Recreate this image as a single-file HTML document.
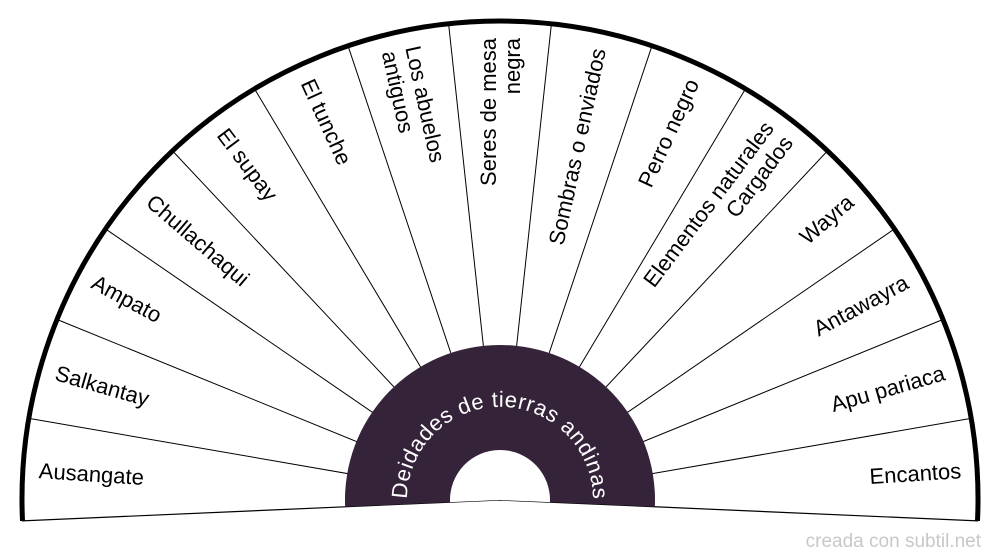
<!DOCTYPE html>
<html><head><meta charset="utf-8"><style>
html,body{margin:0;padding:0;background:#fff;}
svg{display:block;}
text{font-family:"Liberation Sans",sans-serif;}
</style></head><body>
<svg width="1000" height="560" viewBox="0 0 1000 560" xmlns="http://www.w3.org/2000/svg">
<path d="M500,500 L22.5,520.9 A478,478 0 1,1 977.5,520.9 Z" fill="#fff" stroke="#000" stroke-width="1.2"/>
<g stroke="#000" stroke-width="1">
<line x1="500" y1="500" x2="29.0" y2="418.4"/>
<line x1="500" y1="500" x2="57.4" y2="319.6"/>
<line x1="500" y1="500" x2="106.1" y2="229.3"/>
<line x1="500" y1="500" x2="173.0" y2="151.4"/>
<line x1="500" y1="500" x2="255.0" y2="89.6"/>
<line x1="500" y1="500" x2="348.3" y2="46.7"/>
<line x1="500" y1="500" x2="448.7" y2="24.8"/>
<line x1="500" y1="500" x2="551.3" y2="24.8"/>
<line x1="500" y1="500" x2="651.7" y2="46.7"/>
<line x1="500" y1="500" x2="745.0" y2="89.6"/>
<line x1="500" y1="500" x2="827.0" y2="151.4"/>
<line x1="500" y1="500" x2="893.9" y2="229.3"/>
<line x1="500" y1="500" x2="942.6" y2="319.6"/>
<line x1="500" y1="500" x2="971.0" y2="418.4"/>
</g>
<path d="M22.5,520.9 A478,478 0 1,1 977.5,520.9" fill="none" stroke="#000" stroke-width="5"/>
<path d="M500,500 L345.15,506.76 A155,155 0 1,1 654.85,506.76 Z" fill="#35233a"/>
<path d="M500,500 L450.05,502.18 A50,50 0 1,1 549.95,502.18 Z" fill="#fff"/>
<defs><path id="tp" d="M407.1,504.1 A93,93 0 1,1 592.9,504.1"/></defs>
<text font-size="22" fill="#fff"><textPath href="#tp" startOffset="50%" text-anchor="middle" textLength="290" lengthAdjust="spacing">Deidades de tierras andinas</textPath></text>
<g font-size="22" fill="#000" dominant-baseline="central">
<text transform="translate(38.9,470.7) rotate(3.667)">Ausangate</text>
<text transform="translate(55.8,372.6) rotate(16)">Salkantay</text>
<text transform="translate(93.4,280.8) rotate(28.333)">Ampato</text>
<text transform="translate(149.6,198.9) rotate(40.667)">Chullachaqui</text>
<text transform="translate(222.0,131.0) rotate(53)">El supay</text>
<text transform="translate(307.2,80.2) rotate(65.333)">El tunche</text>
<text transform="translate(401.3,48.6) rotate(77.667)"><tspan x="0" y="-12">Los abuelos</tspan><tspan x="0" y="12">antiguos</tspan></text>
<text text-anchor="end" transform="translate(500,38) rotate(-90)"><tspan x="0" y="-12">Seres de mesa</tspan><tspan x="0" y="12">negra</tspan></text>
<text text-anchor="end" transform="translate(598.7,48.6) rotate(-77.667)">Sombras o enviados</text>
<text text-anchor="end" transform="translate(692.8,80.2) rotate(-65.333)">Perro negro</text>
<text text-anchor="end" transform="translate(778.0,131.0) rotate(-53)"><tspan x="0" y="-12">Elementos naturales</tspan><tspan x="0" y="12">Cargados</tspan></text>
<text text-anchor="end" transform="translate(850.4,198.9) rotate(-40.667)">Wayra</text>
<text text-anchor="end" transform="translate(906.6,280.8) rotate(-28.333)">Antawayra</text>
<text text-anchor="end" transform="translate(944.2,372.6) rotate(-16)">Apu pariaca</text>
<text text-anchor="end" transform="translate(961.1,470.7) rotate(-3.667)">Encantos</text>
</g>
<text x="981" y="547" font-size="19" fill="#c8c8c8" text-anchor="end">creada con subtil.net</text>
</svg>
</body></html>
